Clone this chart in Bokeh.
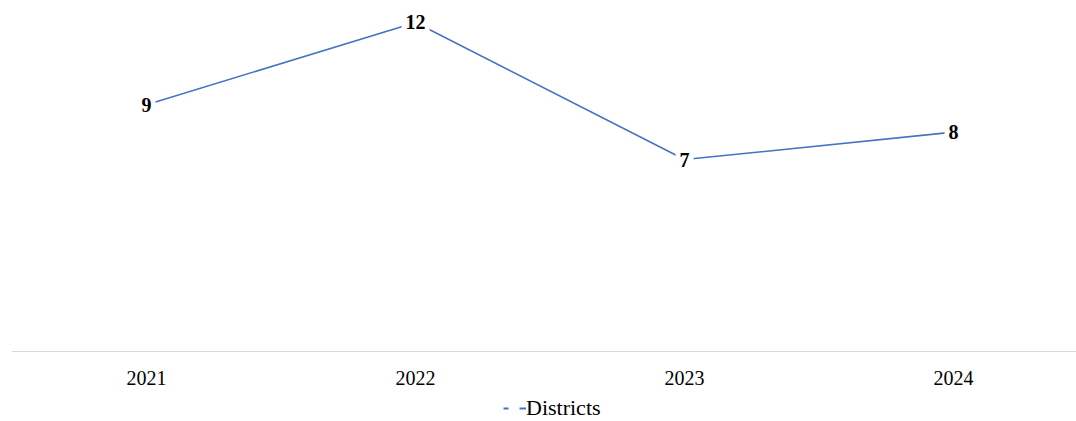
from bokeh.plotting import figure
from bokeh.models import Range1d, ColumnDataSource, Legend, LegendItem, Span
from bokeh.core.properties import value
from bokeh.embed import file_html
from bokeh.resources import INLINE

years = ["2021", "2022", "2023", "2024"]
districts = [9, 12, 7, 8]

xs = list(range(len(years)))
src = ColumnDataSource(dict(x=xs, y=districts, lbl=[str(v) for v in districts]))
axis_src = ColumnDataSource(dict(x=xs, y=[0] * len(xs), lbl=years))

p = figure(frame_width=1065, frame_height=421, output_backend="svg", toolbar_location=None,
           x_range=Range1d(-0.502, 3.457), y_range=Range1d(-2.553, 12.802),
           min_border_left=11, min_border_right=0, min_border_top=0, min_border_bottom=0)
p.outline_line_color = None
p.grid.visible = False
p.axis.visible = False

p.add_layout(Span(location=0, dimension="width", line_color="#d9d9d9", line_width=1))

p.text("x", "y", text="lbl", source=axis_src, text_align="center", text_baseline="middle",
       y_offset=26, text_font=value("Liberation Serif"), text_font_size="20px",
       text_color="#000000")

line = p.line("x", "y", source=src, line_color="#4472C4", line_width=1.6)

p.text("x", "y", text="lbl", source=src, text_align="center", text_baseline="middle",
       text_font=value("Liberation Serif"), text_font_style="bold", text_font_size="20px",
       text_color="#000000", background_fill_color="white", padding=4)

dummy = p.line(x=[0, 1], y=[float("nan"), float("nan")], line_color="#4472C4",
               line_width=2, line_dash="5 11 7 11")
legend = Legend(items=[LegendItem(label="Districts", renderers=[dummy])],
                location=(492, 0), orientation="horizontal",
                label_text_font="Liberation Serif", label_text_font_size="22px",
                label_text_color="#000000", glyph_width=23, label_standoff=0,
                border_line_color=None, background_fill_alpha=0, padding=0, margin=0)
p.add_layout(legend)

open("out.html", "w").write(file_html(p, INLINE))
